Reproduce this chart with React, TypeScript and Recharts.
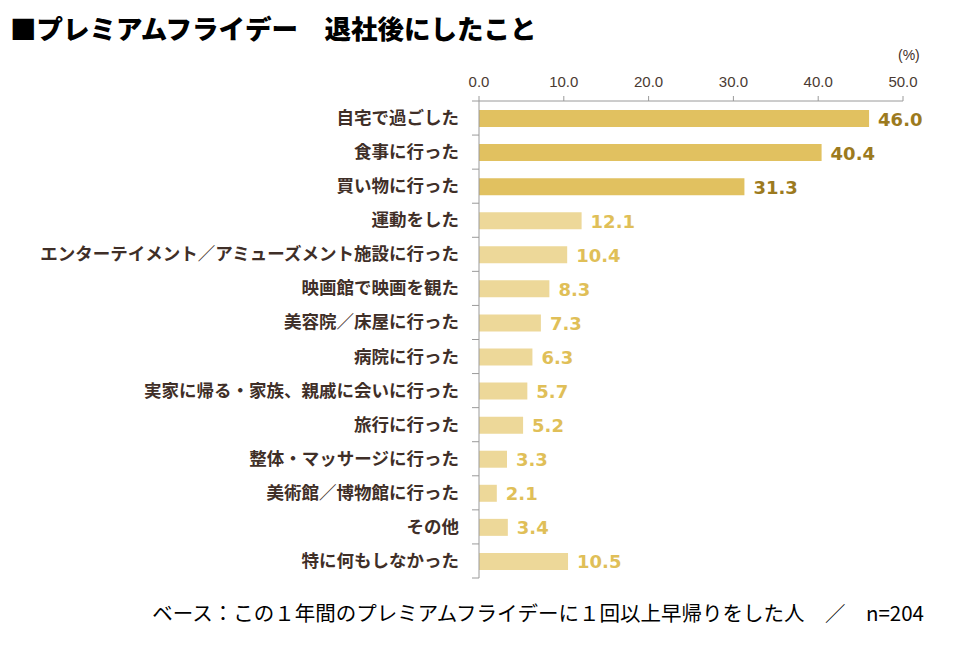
import { BarChart, Bar, XAxis, YAxis, Cell, LabelList } from 'recharts'

const categories = [
  '自宅で過ごした',
  '食事に行った',
  '買い物に行った',
  '運動をした',
  'エンターテイメント／アミューズメント施設に行った',
  '映画館で映画を観た',
  '美容院／床屋に行った',
  '病院に行った',
  '実家に帰る・家族、親戚に会いに行った',
  '旅行に行った',
  '整体・マッサージに行った',
  '美術館／博物館に行った',
  'その他',
  '特に何もしなかった',
]
const values = [46.0, 40.4, 31.3, 12.1, 10.4, 8.3, 7.3, 6.3, 5.7, 5.2, 3.3, 2.1, 3.4, 10.5]
const xTicks = [0, 10, 20, 30, 40, 50]

const data = categories.map((name, i) => ({ name, value: values[i] }))

const jp = '"Noto Sans CJK JP", sans-serif'
const num = '"Liberation Sans", Arial, sans-serif'
const axisGray = '#9a9a9a'
const band = 477 / categories.length

const CatTick = (props: any) => {
  const { x, y, payload, index } = props
  const ax = x + 8
  return (
    <g>
      <line x1={ax - 7} x2={ax} y1={y - band / 2} y2={y - band / 2} stroke={axisGray} />
      {index === categories.length - 1 && (
        <line x1={ax - 7} x2={ax} y1={y + band / 2} y2={y + band / 2} stroke={axisGray} />
      )}
      <text x={x - 12} y={y} dy={6} textAnchor="end" fontFamily={jp} fontWeight={700} fontSize={17.5} fill="#3f2f28">
        {payload.value}
      </text>
    </g>
  )
}

const ValueLabel = (props: any) => {
  const { x, y, width, height, index, value } = props
  const top = index < 3
  return (
    <text x={x + width + 9} y={y + height / 2} dy={7} fontFamily='"DejaVu Sans", sans-serif' fontWeight={700} fontSize={18} fill={top ? '#9c7a1e' : '#e0bf58'}>
      {Number(value).toFixed(1)}
    </text>
  )
}

export default function App() {
  return (
    <div style={{ position: 'absolute', left: 0, top: 0, width: 960, height: 651, background: '#fff', fontFamily: jp }}>
      <div style={{ position: 'absolute', left: 10, top: 8, fontSize: 26.5, fontWeight: 900, color: '#000' }}>
        ■プレミアムフライデー　退社後にしたこと
      </div>
      <div style={{ position: 'absolute', left: 898, top: 47, fontSize: 14, color: '#3f2f28', fontFamily: num }}>(%)</div>
      <BarChart
        width={960}
        height={651}
        data={data}
        layout="vertical"
        margin={{ top: 71, right: 57, bottom: 73, left: 0 }}
        barSize={17}
      >
        <XAxis
          type="number"
          orientation="top"
          domain={[0, 50]}
          ticks={xTicks}
          tickFormatter={(v: number) => v.toFixed(1)}
          height={30}
          stroke={axisGray}
          tickSize={5}
          tick={{ fill: '#4a3a32', fontSize: 15, fontFamily: num }}
          tickMargin={9}
        />
        <YAxis
          type="category"
          dataKey="name"
          width={479}
          stroke={axisGray}
          tickLine={false}
          tick={<CatTick />}
          interval={0}
        />
        <Bar dataKey="value" isAnimationActive={false}>
          {data.map((d, i) => (
            <Cell key={d.name} fill={i < 3 ? '#e1c160' : '#edd899'} />
          ))}
          <LabelList dataKey="value" content={<ValueLabel />} />
        </Bar>
      </BarChart>
      <div style={{ position: 'absolute', right: 36, top: 597, fontSize: 20.5, color: '#000', whiteSpace: 'nowrap' }}>
        ベース：この１年間のプレミアムフライデーに１回以上早帰りをした人　／　n=204
      </div>
    </div>
  )
}
